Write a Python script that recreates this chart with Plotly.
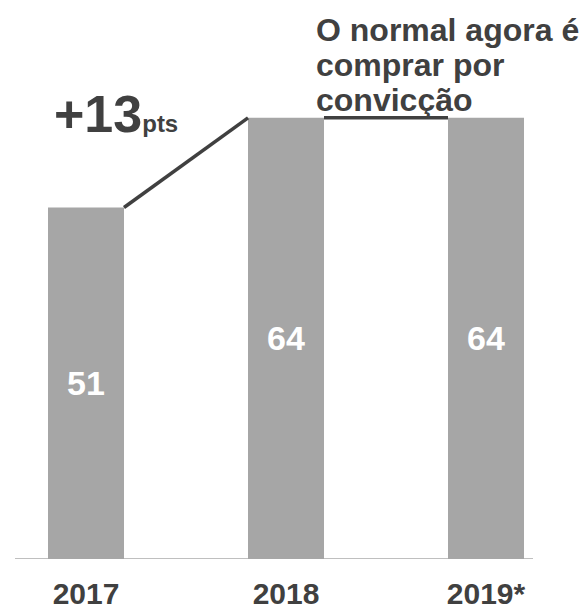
import plotly.graph_objects as go

years = ["2017", "2018", "2019*"]
values = [51, 64, 64]
delta_label = "+13"
delta_unit = "pts"
headline = ["O normal agora é", "comprar por", "convicção"]

BAR = "#A6A6A6"
DARK = "#404040"
FONT = "Liberation Sans"
bar_w = 0.38
pos = list(range(len(years)))

fig = go.Figure()

fig.add_trace(go.Bar(
    x=pos, y=values, width=bar_w,
    marker=dict(color=BAR, line=dict(width=0)),
    text=[str(v) for v in values],
    textposition="inside", insidetextanchor="middle", textangle=0,
    textfont=dict(family=FONT, size=34, color="white", weight="bold"),
    showlegend=False, hoverinfo="skip",
))

# connectors between bar tops
for i in range(len(values) - 1):
    fig.add_trace(go.Scatter(
        x=[pos[i] + bar_w / 2, pos[i + 1] - bar_w / 2],
        y=[values[i], values[i + 1]],
        mode="lines", line=dict(color=DARK, width=3.5),
        showlegend=False, hoverinfo="skip",
    ))

# baseline
fig.add_shape(type="line", xref="x", yref="y", x0=-0.355, x1=2.235, y0=0, y1=0,
              line=dict(color="#BFBFBF", width=2), layer="below")

fig.add_annotation(
    x=-0.17, y=64.5, xref="x", yref="y", xanchor="left", yanchor="middle",
    text="<b>" + delta_label + "<span style='font-size:24px'>" + delta_unit + "</span></b>",
    showarrow=False, font=dict(family=FONT, size=52, color=DARK),
)

for line, yv in zip(headline, [76.8, 71.6, 66.6]):
    fig.add_annotation(
        x=1.14, y=yv, xref="x", yref="y", xanchor="left", yanchor="middle",
        text="<b>" + line + "</b>", showarrow=False,
        font=dict(family=FONT, size=32, color=DARK),
    )

fig.update_layout(
    width=583, height=610,
    margin=dict(l=0, r=0, t=0, b=47),
    plot_bgcolor="white", paper_bgcolor="white",
    xaxis=dict(range=[-0.43, 2.485], tickvals=pos, ticktext=years,
               tickfont=dict(family=FONT, size=30, color=DARK, weight="bold"),
               showgrid=False, zeroline=False, showline=False, ticks="",
               ticklabelstandoff=14, fixedrange=True),
    yaxis=dict(range=[0, 81.1], visible=False, fixedrange=True),
)

fig.write_html("out.html", config={"displayModeBar": False},
               post_script="document.body.style.margin='0';")
